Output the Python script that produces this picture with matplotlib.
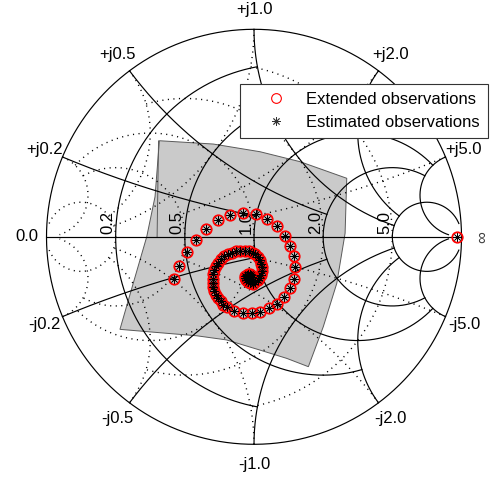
import numpy as np
import matplotlib
matplotlib.use('Agg')
import matplotlib.pyplot as plt
from matplotlib.lines import Line2D

plt.rcParams['font.family'] = ['Liberation Sans', 'DejaVu Sans']

# Smith chart grid: value of each circle/arc and how far it is drawn
grid_values = [0.2, 0.5, 1.0, 2.0, 5.0]
grid_limits = [1.0, 2.0, 5.0, 5.0, 30.0]

# shaded region (reflection coefficient plane)
shade_re = [-0.456, -0.196, 0.029, 0.222, 0.447, 0.439, 0.399, 0.334, 0.262,
            0.158, 0.029, -0.132, -0.276, -0.421, -0.646, -0.582, -0.517, -0.477]
shade_im = [0.463, 0.447, 0.410, 0.362, 0.282, 0.017, -0.224, -0.433, -0.626,
            -0.586, -0.546, -0.497, -0.477, -0.465, -0.446, -0.224, 0.000, 0.193]
seam_re = [-0.460, -0.467]
seam_im = [0.462, -0.001]

# observations (reflection coefficient), outer end of the spiral first
obs_re = [-0.3855, -0.3600, -0.3243, -0.2819, -0.2323, -0.1745, -0.1133, -0.0516,
          0.0082, 0.0612, 0.1094, 0.1480, 0.1759, 0.1913, 0.1961, 0.1904, 0.1735,
          0.1460, 0.1108, 0.0723, 0.0289, -0.0111, -0.0545, -0.0964, -0.1301,
          -0.1470, -0.1614, -0.1735, -0.1831, -0.1904, -0.1952, -0.1976, -0.1976,
          -0.1952, -0.1904, -0.1817, -0.1711, -0.1576, -0.1422, -0.1253, -0.1060,
          -0.0858, -0.0651, -0.0443, -0.0241, -0.0072, 0.0072, 0.0193, 0.0289,
          0.0352, 0.0386, 0.0386, 0.0337, 0.0265, 0.0169, 0.0048, -0.0072, -0.0193,
          -0.0313, -0.0386, -0.0434, -0.0419, -0.0361, -0.0275, -0.0193, -0.0135,
          -0.0120, -0.0154, -0.0217, -0.0265, -0.0280, -0.0251, -0.0202, -0.0193,
          -0.0227, 0.98]
obs_im = [-0.2048, -0.1393, -0.0733, -0.0164, 0.0366, 0.0795, 0.1051, 0.1133,
          0.1084, 0.0843, 0.0520, 0.0039, -0.0443, -0.0949, -0.1470, -0.2010, -0.2467,
          -0.2887, -0.3239, -0.3455, -0.3600, -0.3672, -0.3658, -0.3576, -0.3383,
          -0.3263, -0.3118, -0.2973, -0.2805, -0.2612, -0.2419, -0.2227, -0.2010,
          -0.1793, -0.1600, -0.1407, -0.1239, -0.1084, -0.0949, -0.0843, -0.0757,
          -0.0708, -0.0684, -0.0684, -0.0708, -0.0771, -0.0853, -0.0973, -0.1118,
          -0.1287, -0.1455, -0.1639, -0.1817, -0.1976, -0.2106, -0.2193, -0.2251, -0.2236,
          -0.2178, -0.2092, -0.1986, -0.1889, -0.1817, -0.1793, -0.1807, -0.1865,
          -0.1937, -0.2010, -0.2034, -0.2000, -0.1947, -0.1904, -0.1913, -0.1961,
          -0.1976, 0.0]


def z2gamma(z):
    return (z - 1) / (z + 1)


def r_circle(r, xmax):
    x = np.tan(np.linspace(-np.arctan(xmax), np.arctan(xmax), 800))
    return z2gamma(r + 1j * x)


def x_arc(x, rmax):
    r = np.tan(np.linspace(0, np.arctan(rmax), 600))
    return z2gamma(r + 1j * x)


# pixel geometry of the chart in the 498x480 figure
W, H = 498, 480
CX, CY, R = 254.0, 236.8, 207.5

fig = plt.figure(figsize=(W / 100, H / 100), dpi=100)
ax = fig.add_axes([0, 0, 1, 1])
ax.set_xlim(-CX / R, (W - CX) / R)
ax.set_ylim(-(H - CY) / R, CY / R)
ax.axis('off')

ax.fill(shade_re, shade_im, facecolor='#cacaca', edgecolor='#5a5a5a', lw=0.7, zorder=1)
ax.plot(seam_re, seam_im, color='#5a5a5a', lw=0.7, zorder=1)

solid = dict(color='black', lw=0.85, zorder=2)
dotted = dict(color='black', lw=1.0, ls=(0, (0.8, 3.2)), zorder=2)

# outer circle and real axis
t = np.linspace(0, 2 * np.pi, 720)
ax.plot(np.cos(t), np.sin(t), **solid)
ax.plot([-1, 1], [0, 0], **solid)

for v, lim in zip(grid_values, grid_limits):
    g = r_circle(v, lim)
    ax.plot(g.real, g.imag, **solid)
    ax.plot(-g.real, -g.imag, **dotted)
    for s in (1, -1):
        g = x_arc(s * v, lim)
        ax.plot(g.real, g.imag, **solid)
        ax.plot(-g.real, -g.imag, **dotted)

# labels
fs = 12
ax.text(-1.096, 0, '0.0', ha='center', va='center', fontsize=fs)
for v in grid_values:
    g = z2gamma(v)
    ax.text(g, 0.015, '%.1f' % v, rotation=90, ha='right', va='bottom', fontsize=fs)
ax.text(1.1, 0, '\u221e', rotation=90, ha='center', va='center', fontsize=fs, color='#404040')
for v in grid_values:
    for s, sign in ((1, '+'), (-1, '-')):
        g = z2gamma(1j * s * v) * 1.096
        ax.text(g.real, g.imag, '%sj%.1f' % (sign, v), ha='center', va='center', fontsize=fs)

ax.plot(obs_re, obs_im, ls='none', marker='o', ms=7.5, mfc='none', mec='red', mew=1.3, zorder=3)
ax.plot(obs_re, obs_im, ls='none', marker=(8, 2, 0), ms=6, color='black', mew=0.5, zorder=4)

handles = [Line2D([], [], ls='none', marker='o', ms=7, mfc='none', mec='red', mew=0.8),
           Line2D([], [], ls='none', marker=(8, 2, 0), ms=6, color='#333333', mew=0.6)]
leg = ax.legend(handles, ['Extended observations', 'Estimated observations'],
                loc='upper right', bbox_to_anchor=(488.3 / W, 1 - 84 / H),
                bbox_transform=fig.transFigure, borderaxespad=0, fontsize=fs,
                fancybox=False, framealpha=1, edgecolor='#333333',
                handlelength=3.3, handletextpad=0.2, borderpad=0.5, labelspacing=0.45)
leg.get_frame().set_linewidth(0.8)
leg.set_zorder(5)

fig.savefig('out.png', dpi=100)
